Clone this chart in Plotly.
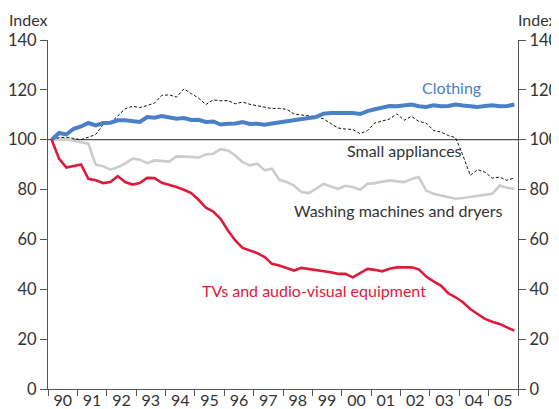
import plotly.graph_objects as go

# quarterly data, 1990 Q1 .. 2005 Q4 (index, 1990 Q1 = 100)
years = list(range(1990, 2006))
year_labels = ["90", "91", "92", "93", "94", "95", "96", "97",
               "98", "99", "00", "01", "02", "03", "04", "05"]

clothing = [
    100.0, 102.7, 102.1, 104.4, 105.3, 106.7, 105.7, 106.7,
    106.8, 107.8, 107.8, 107.5, 107.1, 109.1, 108.8, 109.5,
    108.8, 108.4, 108.7, 107.9, 108.0, 107.1, 107.3, 106.1,
    106.4, 106.5, 107.1, 106.3, 106.4, 106.0, 106.5, 107.0,
    107.3, 107.8, 108.2, 108.7, 109.1, 110.4, 110.7, 110.8,
    110.8, 110.7, 110.3, 111.5, 112.2, 112.9, 113.5, 113.4,
    113.8, 114.1, 113.4, 113.1, 113.8, 113.4, 113.5, 114.1,
    113.7, 113.5, 113.1, 113.5, 113.8, 113.4, 113.5, 114.1,
]

small_appliances = [
    100.0, 100.8, 101.0, 100.5, 100.0, 101.0, 102.1, 106.1,
    106.8, 109.5, 112.4, 113.4, 112.9, 113.7, 114.7, 117.8,
    118.0, 117.1, 120.4, 118.5, 116.7, 114.1, 116.0, 115.6,
    115.7, 114.4, 115.1, 114.2, 113.6, 113.0, 112.5, 112.6,
    112.2, 110.3, 110.0, 109.4, 109.2, 108.4, 106.4, 104.7,
    104.3, 104.1, 102.4, 103.7, 106.7, 107.5, 108.3, 110.4,
    107.8, 109.4, 107.3, 106.7, 103.7, 103.1, 101.7, 100.8,
    93.7, 85.7, 88.0, 87.0, 84.6, 85.0, 83.7, 84.7,
]

washing_machines = [
    100.0, 100.4, 100.2, 99.6, 99.2, 98.4, 90.0, 89.4,
    88.0, 89.0, 90.4, 92.4, 92.0, 90.6, 91.7, 91.4,
    91.2, 93.3, 93.3, 93.1, 92.8, 94.1, 94.4, 96.2,
    95.7, 93.7, 91.0, 89.7, 90.4, 87.7, 88.4, 83.9,
    83.0, 81.6, 79.0, 78.6, 80.3, 82.3, 81.2, 80.3,
    81.5, 81.0, 79.9, 82.3, 82.6, 83.0, 83.7, 83.3,
    83.0, 84.2, 85.0, 79.6, 78.3, 77.6, 77.0, 76.3,
    76.6, 77.0, 77.2, 77.6, 78.3, 81.6, 80.7, 80.3,
]

tvs_audio_visual = [
    100.0, 92.4, 88.8, 89.3, 90.1, 84.3, 83.7, 82.6,
    83.0, 85.4, 83.0, 82.0, 82.6, 84.7, 84.6, 82.7,
    82.0, 81.0, 79.9, 78.6, 75.9, 72.7, 71.2, 68.3,
    63.6, 59.6, 56.6, 55.5, 54.5, 52.9, 50.2, 49.5,
    48.4, 47.5, 48.6, 48.2, 47.8, 47.2, 46.8, 46.2,
    46.2, 44.8, 46.4, 48.2, 47.8, 47.2, 48.2, 48.8,
    48.8, 48.8, 48.0, 45.1, 43.2, 41.5, 38.4, 36.8,
    34.8, 32.1, 30.1, 28.1, 27.0, 26.1, 24.7, 23.4,
]

# each quarter plotted at its middle
x = [y + (q + 0.5) / 4 for y in years for q in range(4)]

BLUE = "#4a80c8"
RED = "#de1a3a"
GREY = "#cccccc"
TXT = "#333333"
AXIS = "#555555"
FONT = "Lato, sans-serif"

fig = go.Figure()
fig.add_trace(go.Scatter(x=x, y=washing_machines, mode="lines",
                         line=dict(color=GREY, width=2.6)))
fig.add_trace(go.Scatter(x=x, y=small_appliances, mode="lines",
                         line=dict(color="#111111", width=1, dash="3px,2px")))
fig.add_trace(go.Scatter(x=x, y=clothing, mode="lines",
                         line=dict(color=BLUE, width=4)))
fig.add_trace(go.Scatter(x=x, y=tvs_audio_visual, mode="lines",
                         line=dict(color=RED, width=2.6)))
# dummy trace so the right hand axis is drawn
fig.add_trace(go.Scatter(x=[1990], y=[0], yaxis="y2", mode="markers",
                         marker=dict(opacity=0), hoverinfo="skip"))

fig.add_hline(y=100, line_color="#222222", line_width=1, layer="below")

labels = [
    ("Clothing", 2003.75, 121, BLUE),
    ("Small appliances", 2002.15, 95.5, TXT),
    ("Washing machines and dryers", 2001.93, 71.6, TXT),
    ("TVs and audio-visual equipment", 1999.07, 39.5, RED),
]
for text, lx, ly, col in labels:
    fig.add_annotation(x=lx, y=ly, text=text, showarrow=False,
                       font=dict(size=16, color=col, family=FONT))

for ax, anchor in ((0, "right"), (1, "left")):
    fig.add_annotation(x=ax, y=1.025, xref="paper", yref="paper",
                       text="Index", showarrow=False,
                       xanchor=anchor, yanchor="bottom",
                       xshift=2 if ax == 0 else -2,
                       font=dict(size=16, color=TXT, family=FONT))

yax = dict(
    range=[0, 140],
    tickvals=[0, 20, 40, 60, 80, 100, 120, 140],
    showgrid=False,
    zeroline=False,
    showline=True,
    linecolor=AXIS,
    linewidth=1.2,
    ticks="outside",
    ticklen=7,
    tickcolor=AXIS,
    automargin=False,
    tickfont=dict(size=16.5, color=TXT, family=FONT),
)

# the page body has an 8px margin, so the figure is 8px smaller each way
fig.update_layout(
    width=551,
    height=401,
    margin=dict(l=40, r=41, t=32, b=20),
    paper_bgcolor="white",
    plot_bgcolor="white",
    showlegend=False,
    xaxis=dict(
        range=[1990, 2006],
        tickvals=[y + 0.5 for y in years],
        ticktext=year_labels,
        ticks="",
        ticklabelstandoff=-3,
        showgrid=False,
        zeroline=False,
        showline=True,
        linecolor=AXIS,
        linewidth=1.2,
        automargin=False,
        tickfont=dict(size=16, color=TXT, family=FONT),
        minor=dict(tickvals=years + [2006], ticks="outside", ticklen=6,
                   tickcolor=AXIS, showgrid=False),
    ),
    yaxis=yax,
    yaxis2=dict(yax, overlaying="y", side="right"),
)

fig.write_html("out.html")
